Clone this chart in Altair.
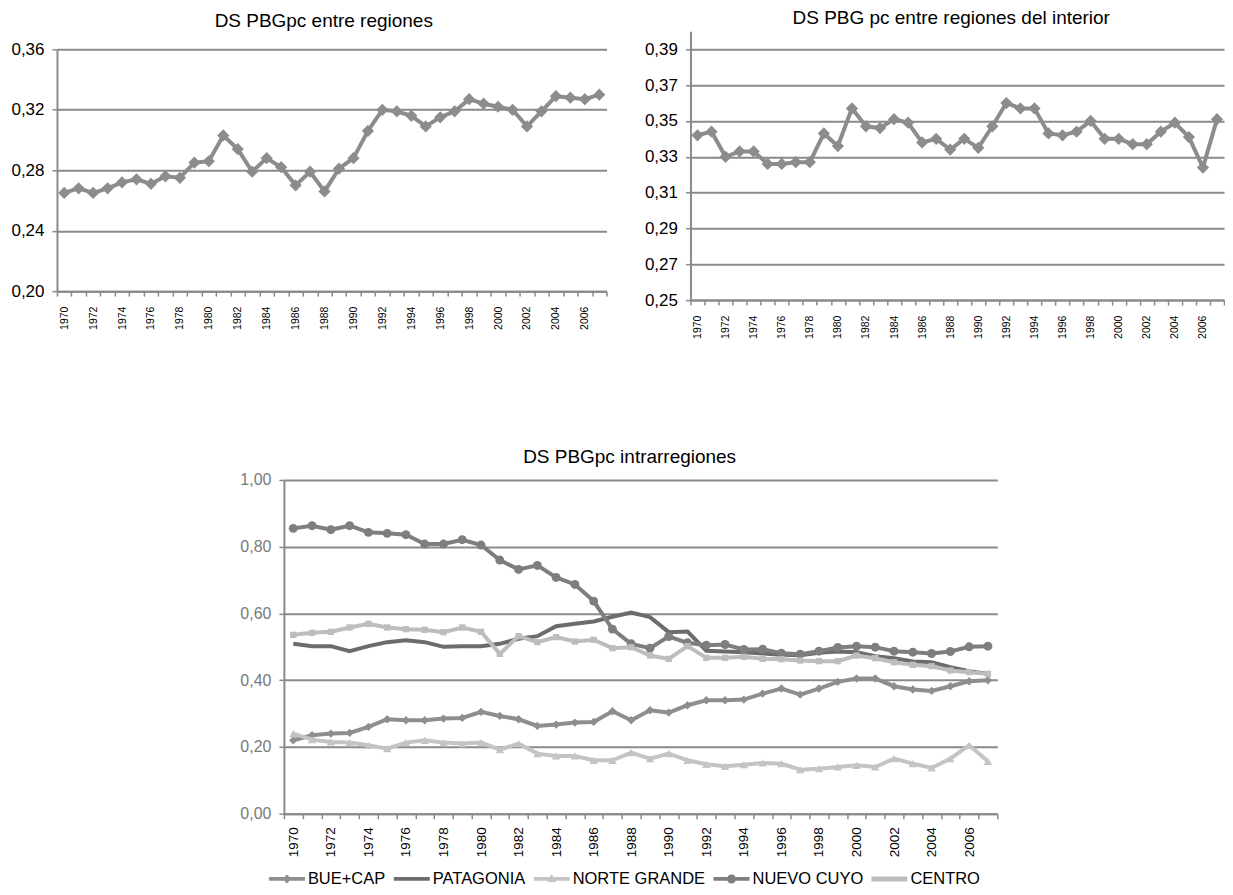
import altair as alt
import pandas as pd

FONT = "Liberation Sans"
GRID = "#8a8a8a"

years = list(range(1970, 2008))

ds_entre = [0.265, 0.268, 0.265, 0.268, 0.272, 0.274, 0.271, 0.276, 0.275, 0.285,
            0.286, 0.303, 0.294, 0.279, 0.288, 0.282, 0.270, 0.279, 0.266, 0.281,
            0.288, 0.306, 0.320, 0.319, 0.316, 0.309, 0.315, 0.319, 0.327, 0.324,
            0.322, 0.320, 0.309, 0.319, 0.329, 0.328, 0.327, 0.330]

ds_interior = [0.342, 0.344, 0.330, 0.333, 0.333, 0.326, 0.326, 0.327, 0.327, 0.343,
               0.336, 0.357, 0.347, 0.346, 0.351, 0.349, 0.338, 0.340, 0.334, 0.340,
               0.335, 0.347, 0.360, 0.357, 0.357, 0.343, 0.342, 0.344, 0.350, 0.340,
               0.340, 0.337, 0.337, 0.344, 0.349, 0.341, 0.324, 0.351]

series_names = ["BUE+CAP", "PATAGONIA", "NORTE GRANDE", "NUEVO CUYO", "CENTRO"]

bue_cap = [0.220, 0.235, 0.240, 0.242, 0.260, 0.283, 0.280, 0.280, 0.285, 0.287,
           0.305, 0.293, 0.283, 0.263, 0.267, 0.273, 0.275, 0.307, 0.280, 0.310,
           0.303, 0.325, 0.340, 0.340, 0.342, 0.360, 0.375, 0.357, 0.375, 0.395,
           0.405, 0.405, 0.382, 0.372, 0.368, 0.382, 0.397, 0.400]

patagonia = [0.509, 0.502, 0.502, 0.487, 0.502, 0.514, 0.520, 0.514, 0.500, 0.502,
             0.502, 0.509, 0.524, 0.532, 0.562, 0.569, 0.576, 0.590, 0.603, 0.589,
             0.544, 0.546, 0.488, 0.486, 0.484, 0.480, 0.476, 0.475, 0.482, 0.486,
             0.484, 0.472, 0.466, 0.456, 0.454, 0.439, 0.427, 0.419]

norte_grande = [0.240, 0.222, 0.215, 0.213, 0.205, 0.195, 0.213, 0.220, 0.213, 0.210,
                0.213, 0.192, 0.210, 0.180, 0.173, 0.173, 0.160, 0.160, 0.183, 0.165,
                0.180, 0.160, 0.148, 0.142, 0.147, 0.152, 0.150, 0.132, 0.135, 0.140,
                0.145, 0.140, 0.165, 0.150, 0.137, 0.165, 0.205, 0.157]

nuevo_cuyo = [0.855, 0.863, 0.851, 0.863, 0.843, 0.840, 0.836, 0.808, 0.808, 0.821,
              0.805, 0.760, 0.732, 0.744, 0.708, 0.687, 0.637, 0.553, 0.509, 0.496,
              0.531, 0.512, 0.505, 0.507, 0.492, 0.493, 0.481, 0.478, 0.487, 0.498,
              0.502, 0.499, 0.487, 0.484, 0.480, 0.486, 0.500, 0.502]

centro = [0.536, 0.542, 0.545, 0.558, 0.569, 0.558, 0.553, 0.551, 0.544, 0.558,
          0.545, 0.479, 0.532, 0.514, 0.529, 0.516, 0.521, 0.496, 0.499, 0.474,
          0.464, 0.502, 0.467, 0.467, 0.470, 0.464, 0.463, 0.459, 0.457, 0.457,
          0.474, 0.466, 0.454, 0.446, 0.442, 0.429, 0.424, 0.419]

series_values = [bue_cap, patagonia, norte_grande, nuevo_cuyo, centro]
series_colors = ["#8e8e8e", "#6c6c6c", "#c4c4c4", "#7e7e7e", "#bdbdbd"]
series_shapes = ["diamond", None, "triangle-up", "circle", "square"]
series_sizes = [70, 0, 70, 80, 40]

# legend symbols: line segment (x -2..2) + marker, unit = half symbol side
LINE = "M-2,-0.22H2V0.22H-2Z"
legend_paths = [
    LINE + "M0,-0.5L0.5,0L0,0.5L-0.5,0Z",
    LINE,
    LINE + "M0,-0.55L0.5,0.35L-0.5,0.35Z",
    LINE + "M0,-0.5A0.5,0.5,0,1,1,0,0.5A0.5,0.5,0,1,1,0,-0.5Z",
    "M-2,-0.28H2V0.28H-2Z",
]

df_entre = pd.DataFrame({"anio": years, "valor": ds_entre})
df_interior = pd.DataFrame({"anio": years, "valor": ds_interior})
df_intra = pd.DataFrame({
    "anio": [y for _ in series_names for y in years],
    "valor": [v for vals in series_values for v in vals],
    "serie": [n for n in series_names for _ in years],
})

LABEL_EXPR_X = "toNumber(datum.label) % 2 == 0 ? datum.label : ''"
LABEL_EXPR_Y = "replace(format(datum.value, '.2f'), '.', ',')"


def x_enc(label_size, label_pad):
    return alt.X(
        "anio:O",
        bandPosition=0.5,
        scale=alt.Scale(type="band", paddingInner=0, paddingOuter=0),
        axis=alt.Axis(
            title=None, tickBand="extent", labelAngle=270, labelExpr=LABEL_EXPR_X,
            labelFont=FONT, labelFontSize=label_size, labelColor="black",
            domainColor=GRID, domainWidth=2, tickColor=GRID, tickWidth=1.5,
            tickSize=5, labelPadding=label_pad, grid=False,
        ),
    )


def y_enc(domain, values, label_size, label_color, rng=None):
    sc = alt.Scale(domain=domain, nice=False, zero=False)
    if rng is not None:
        sc = alt.Scale(domain=domain, nice=False, zero=False, range=rng)
    return alt.Y(
        "valor:Q",
        scale=sc,
        axis=alt.Axis(
            title=None, values=values, labelExpr=LABEL_EXPR_Y,
            labelFont=FONT, labelFontSize=label_size, labelColor=label_color,
            grid=True, gridColor=GRID, gridWidth=2,
            domainColor=GRID, domainWidth=2, tickColor=GRID, tickWidth=1.5,
            tickSize=5, labelPadding=8,
        ),
    )


def single_chart(df, title, domain, values, width, height, t_offset, t_dx, rng=None):
    base = alt.Chart(df).encode(
        x=x_enc(10.5, 10),
        y=y_enc(domain, values, 17, "black", rng),
    )
    line = base.mark_line(color="#8c8c8c", strokeWidth=4)
    pts = base.mark_point(shape="diamond", filled=True, size=150, color="#8c8c8c", opacity=1)
    return alt.layer(line, pts).properties(
        width=width, height=height,
        title=alt.TitleParams(title, font=FONT, fontSize=19, fontWeight="normal",
                              color="black", offset=t_offset, dx=t_dx, anchor="middle", frame="group"),
    )


left = single_chart(df_entre, "DS PBGpc entre regiones", [0.20, 0.36],
                    [0.20, 0.24, 0.28, 0.32, 0.36], 550, 260, 0, -8, rng=[260, 18])
right = single_chart(df_interior, "DS PBG pc entre regiones del interior", [0.25, 0.40],
                     [0.25, 0.27, 0.29, 0.31, 0.33, 0.35, 0.37, 0.39], 534, 269, 3, -6)

base_b = alt.Chart(df_intra).encode(
    x=x_enc(13.5, 8),
    y=y_enc([0, 1], [0, 0.2, 0.4, 0.6, 0.8, 1.0], 16, "#7a7a7a"),
)

layers = []
for name, col, shape, size in zip(series_names, series_colors, series_shapes, series_sizes):
    sub = base_b.transform_filter(alt.datum.serie == name)
    layers.append(sub.mark_line(strokeWidth=4, color=col))
    if shape is not None:
        layers.append(sub.mark_point(shape=shape, filled=True, size=size, opacity=1, color=col))

leg = alt.Legend(
    title=None, orient="none", direction="horizontal", legendX=-15, legendY=390,
    labelFont=FONT, labelFontSize=16.5, labelColor="black",
    symbolSize=324, symbolOffset=9, labelOffset=12,
    columnPadding=8, symbolOpacity=1, symbolStrokeWidth=0,
)
legend_layer = base_b.mark_point(filled=True, opacity=0).encode(
    color=alt.Color("serie:N", scale=alt.Scale(domain=series_names, range=series_colors), legend=leg),
    shape=alt.Shape("serie:N", scale=alt.Scale(domain=series_names, range=legend_paths), legend=leg),
)
layers.append(legend_layer)

bottom = alt.layer(*layers).properties(
    width=714, height=334,
    title=alt.TitleParams("DS PBGpc intrarregiones", font=FONT, fontSize=19, fontWeight="normal",
                          color="black", offset=5, dx=-11, anchor="middle", frame="group"),
)

top = alt.hconcat(left, right, spacing=36)
chart = alt.vconcat(top, bottom, spacing=109, center=True).resolve_legend(
    color="independent", shape="independent"
).configure(
    padding={"left": 2, "top": 1, "right": 0, "bottom": 0},
    font=FONT,
).configure_view(stroke=None)

chart.save("out.html", embed_options={"renderer": "svg", "actions": False})
